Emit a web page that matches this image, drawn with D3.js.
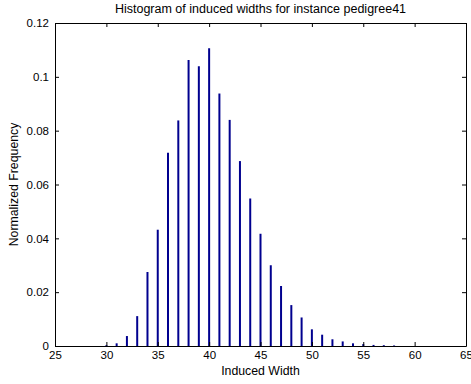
<!DOCTYPE html>
<html>
<head>
<meta charset="utf-8">
<script src="https://cdn.jsdelivr.net/npm/d3@7"></script>
<style>
  body { margin: 0; background: #fff; }
  text { font-family: "Liberation Sans", Arial, sans-serif; }
</style>
</head>
<body>
<svg id="chart" width="471" height="384"></svg>
<script>
// induced widths and their normalized frequencies
var widths = [30, 31, 32, 33, 34, 35, 36, 37, 38, 39, 40, 41, 42, 43, 44, 45, 46, 47, 48, 49, 50, 51, 52, 53, 54, 55, 56, 57, 58];
var freqs = [0.0003, 0.001, 0.0037, 0.0111, 0.0275, 0.0432, 0.0718, 0.0838, 0.1063, 0.1039, 0.1106, 0.0938, 0.084, 0.0687, 0.0548, 0.0417, 0.030, 0.0223, 0.0152, 0.0106, 0.0062, 0.0042, 0.0025, 0.0017, 0.001, 0.0007, 0.0004, 0.0003, 0.0002];
var xTicks = [25, 30, 35, 40, 45, 50, 55, 60, 65];
var yTicks = [0, 0.02, 0.04, 0.06, 0.08, 0.1, 0.12];

var svg = d3.select("#chart");
var plotLeft = 55, plotRight = 466, plotTop = 23, plotBottom = 346;

var x = d3.scaleLinear().domain([25, 65]).range([plotLeft, plotRight]);
var y = d3.scaleLinear().domain([0, 0.12]).range([plotBottom, plotTop]);

// bars
svg.append("g").selectAll("line")
  .data(widths)
  .enter().append("line")
  .attr("x1", function(d) { return x(d); })
  .attr("x2", function(d) { return x(d); })
  .attr("y1", y(0))
  .attr("y2", function(d, i) { return y(freqs[i]); })
  .attr("stroke", "#00008f")
  .attr("stroke-width", 2);

// axes, ticks pointing inward like matlab
var tickLen = 4;
var xAxis = svg.append("g").attr("transform", "translate(0," + plotBottom + ")")
  .call(d3.axisBottom(x).tickValues(xTicks).tickSizeInner(-tickLen).tickSizeOuter(0).tickPadding(5).tickFormat(d3.format("d")));
var xTop = svg.append("g").attr("transform", "translate(0," + plotTop + ")")
  .call(d3.axisTop(x).tickValues(xTicks).tickSizeInner(-tickLen).tickSizeOuter(0).tickFormat(""));
var yAxis = svg.append("g").attr("transform", "translate(" + plotLeft + ",0)")
  .call(d3.axisLeft(y).tickValues(yTicks).tickSizeInner(-tickLen).tickSizeOuter(0).tickPadding(6).tickFormat(function(d) { return d === 0 ? "0" : String(+d.toFixed(2)); }));
var yRight = svg.append("g").attr("transform", "translate(" + plotRight + ",0)")
  .call(d3.axisRight(y).tickValues(yTicks).tickSizeInner(-tickLen).tickSizeOuter(0).tickFormat(""));

[xAxis, xTop, yAxis, yRight].forEach(function(g) {
  g.selectAll("path, line").attr("stroke", "#000").attr("stroke-width", 1);
  g.selectAll("text").attr("fill", "#000").style("font-size", "11.5px");
});
xAxis.selectAll("text").attr("dy", "0.71em");

svg.append("text")
  .attr("x", (plotLeft + plotRight) / 2).attr("y", 12.5)
  .attr("text-anchor", "middle").style("font-size", "12.5px")
  .text("Histogram of induced widths for instance pedigree41");

svg.append("text")
  .attr("x", (plotLeft + plotRight) / 2).attr("y", 375)
  .attr("text-anchor", "middle").style("font-size", "12.3px")
  .text("Induced Width");

svg.append("text")
  .attr("transform", "translate(18," + ((plotTop + plotBottom) / 2) + ") rotate(-90)")
  .attr("text-anchor", "middle").style("font-size", "12.3px")
  .text("Normalized Frequency");
</script>
</body>
</html>
